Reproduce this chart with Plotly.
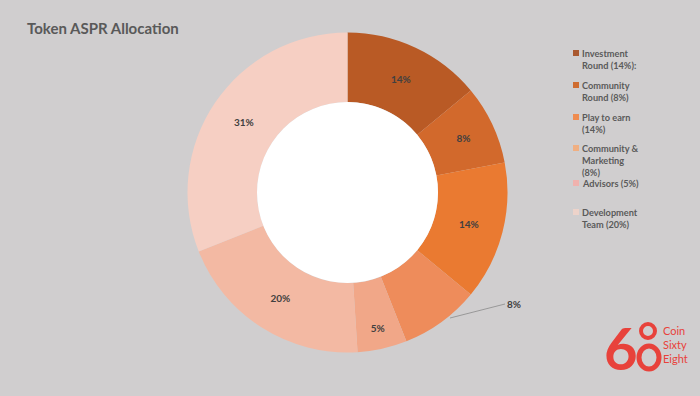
import plotly.graph_objects as go

# ---- data ----
slice_names = ["Investment Round", "Community Round", "Play to earn",
               "Community & Marketing", "Advisors", "Development Team", "Other"]
slice_values = [14, 8, 14, 8, 5, 20, 31]
slice_colors = ["#B95A25", "#D2692C", "#EA7A31", "#EE8C5B", "#F1A788", "#F3B9A3", "#F6CFC3"]

legend_labels = ["Investment<br>Round (14%):", "Community<br>Round (8%)", "Play to earn<br>(14%)",
                 "Community &<br>Marketing<br>(8%)", "Advisors (5%)", "Development<br>Team (20%)"]
legend_colors = ["#A9582F", "#CF6C30", "#EF8C50", "#F0AF82", "#F0B2AE", "#EDD3CA"]
legend_y = [53, 85, 117, 148, 183, 212]   # pixel rows of first legend line

outside_idx = 3  # slice whose label sits outside with a leader line

W, H = 700, 396
BG = "#D0CECF"
TXT = "#404040"
CX, CY, R_OUT, R_IN = 347.5, 192.5, 160, 90.5

texts = [f"{v}%" if i != outside_idx else "" for i, v in enumerate(slice_values)]

fig = go.Figure()
fig.add_trace(go.Pie(
    labels=slice_names, values=slice_values, sort=False, direction="clockwise",
    rotation=0, hole=R_IN / R_OUT,
    marker=dict(colors=slice_colors, line=dict(width=0)),
    text=texts, textinfo="text", textposition="inside", insidetextorientation="horizontal",
    textfont=dict(family="Lato", size=10, color=TXT, weight="bold"),
    domain=dict(x=[(CX - R_OUT) / W, (CX + R_OUT) / W], y=[1 - (CY + R_OUT) / H, 1 - (CY - R_OUT) / H]),
    showlegend=False, automargin=False, hoverinfo="label+value",
))

anns = []
shapes = []
# white hole
shapes.append(dict(type="circle", xref="paper", yref="paper", layer="above",
                   x0=(CX - R_IN) / W, x1=(CX + R_IN) / W, y0=1 - (CY + R_IN) / H, y1=1 - (CY - R_IN) / H,
                   fillcolor="white", line=dict(width=0)))
# title
anns.append(dict(text="<b>Token ASPR Allocation</b>", x=25 / W, y=1 - 28 / H, xref="paper", yref="paper",
                 xanchor="left", yanchor="middle", showarrow=False,
                 font=dict(family="Lato", size=15, color="#595959")))

# outside label for slice 4 with leader line
anns.append(dict(text=f"<b>{slice_values[outside_idx]}%</b>", x=450 / W, y=1 - 318 / H,
                 xref="paper", yref="paper", ax=55, ay=-14, showarrow=True, arrowhead=0,
                 arrowwidth=0.8, arrowcolor="#8A8A8A", standoff=0,
                 xanchor="left", font=dict(family="Lato", size=10, color=TXT)))

# legend
for lab, col, yy in zip(legend_labels, legend_colors, legend_y):
    shapes.append(dict(type="rect", xref="paper", yref="paper",
                       x0=573 / W, x1=579 / W, y0=1 - (yy + 3) / H, y1=1 - (yy - 3) / H,
                       fillcolor=col, line=dict(width=0)))
    anns.append(dict(text=f"<b>{lab}</b>", x=580 / W, y=1 - (yy - 7) / H, xref="paper", yref="paper",
                     xanchor="left", yanchor="top", align="left", showarrow=False,
                     font=dict(family="Lato", size=9.2, color="#5A5A5A")))

# logo
RED = "#E8423B"
anns.append(dict(text="<b>6</b>", x=621 / W, y=1 - 347 / H, xref="paper", yref="paper",
                 showarrow=False, xanchor="center", yanchor="middle",
                 font=dict(family="Lato", size=58, color=RED)))
shapes.append(dict(type="circle", xref="paper", yref="paper",
                   x0=641 / W, x1=655 / W, y0=1 - 338 / H, y1=1 - 324 / H,
                   line=dict(color=RED, width=4)))
shapes.append(dict(type="circle", xref="paper", yref="paper",
                   x0=639 / W, x1=659 / W, y0=1 - 369 / H, y1=1 - 346 / H,
                   line=dict(color=RED, width=5)))
for word, yy in zip(["Coin", "Sixty", "Eight"], [330, 344, 358]):
    anns.append(dict(text=word, x=661 / W, y=1 - yy / H, xref="paper", yref="paper",
                     showarrow=False, xanchor="left", yanchor="middle",
                     font=dict(family="Lato", size=11, color=RED)))

fig.update_layout(
    width=W, height=H, margin=dict(l=0, r=0, t=0, b=0),
    paper_bgcolor=BG, plot_bgcolor=BG,
    annotations=anns, shapes=shapes,
)
fig.write_html("out.html")
